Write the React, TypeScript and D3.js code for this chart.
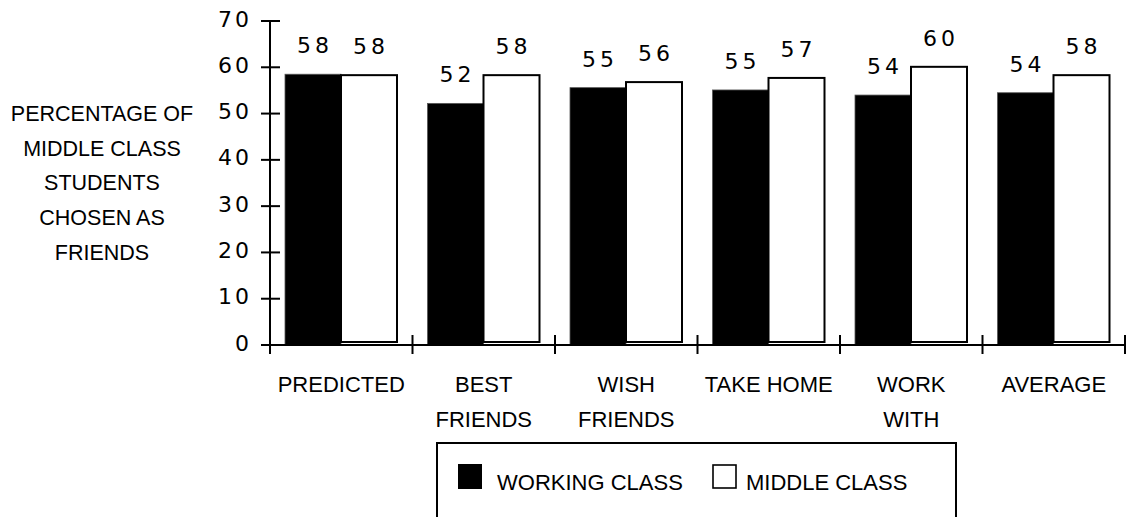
import React from "react";
import * as d3 from "d3";

const categories: string[][] = [
  ["PREDICTED"],
  ["BEST", "FRIENDS"],
  ["WISH", "FRIENDS"],
  ["TAKE HOME"],
  ["WORK", "WITH"],
  ["AVERAGE"],
];
const seriesNames = ["WORKING CLASS", "MIDDLE CLASS"];
const workingClass = [58.5, 52.2, 55.6, 55.1, 54.0, 54.5];
const middleClass = [58.3, 58.3, 56.8, 57.7, 60.1, 58.3];
const yTicks = [0, 10, 20, 30, 40, 50, 60, 70];
const yTitle = ["PERCENTAGE OF", "MIDDLE CLASS", "STUDENTS", "CHOSEN AS", "FRIENDS"];

const FONT = "'Liberation Sans', Arial, sans-serif";
const NUM_FONT = "'DejaVu Sans', Verdana, sans-serif";

export default function App() {
  const W = 1126;
  const H = 517;
  const x0 = d3
    .scaleBand<number>()
    .domain(categories.map((_, i) => i))
    .range([270, 1125])
    .padding(0);
  const step = x0.step();
  const x1 = d3
    .scaleBand<number>()
    .domain([0, 1])
    .range([15, step - 15.5])
    .padding(0);
  const y = d3.scaleLinear().domain([0, 70]).range([345, 21]);
  const series = [workingClass, middleClass];
  const boundaries = d3.range(categories.length + 1).map((i) => 270 + i * step);

  return (
    <svg
      width={W}
      height={H}
      style={{ position: "absolute", left: 0, top: 0, background: "#fff" }}
      fontFamily={FONT}
    >
      <rect x={0} y={0} width={W} height={H} fill="#fff" />
      {/* y title */}
      {yTitle.map((t, i) => (
        <text key={t} x={102} y={121 + i * 34.7} fontSize={21.5} textAnchor="middle" fill="#000">
          {t}
        </text>
      ))}
      {/* bars */}
      {categories.map((_, ci) => {
        const cx = x0(ci)!;
        return (
          <g key={ci}>
            {series.map((s, si) => {
              const v = s[ci];
              const bx = cx + x1(si)!;
              const bw = x1.bandwidth();
              if (si === 0) {
                return (
                  <rect
                    key={si}
                    x={bx}
                    y={y(v)}
                    width={bw}
                    height={y(0) - y(v)}
                    fill="#000"
                    stroke="#555"
                    strokeWidth={0.8}
                  />
                );
              }
              return (
                <rect
                  key={si}
                  x={bx}
                  y={y(v)}
                  width={bw}
                  height={y(0) - 3 - y(v)}
                  fill="#fff"
                  stroke="#000"
                  strokeWidth={2}
                />
              );
            })}
            {series.map((s, si) => {
              const v = s[ci];
              const bx = cx + x1(si)! + x1.bandwidth() / 2;
              return (
                <text
                  key={"l" + si}
                  x={bx + 2}
                  y={y(v) - 21}
                  fontSize={22}
                  fontFamily={NUM_FONT}
                  letterSpacing={4}
                  textAnchor="middle"
                  fill="#000"
                >
                  {Math.floor(v)}
                </text>
              );
            })}
          </g>
        );
      })}
      {/* y axis */}
      <line x1={270} x2={270} y1={y(70)} y2={y(0)} stroke="#000" strokeWidth={2} />
      {yTicks.map((t) => (
        <g key={t}>
          <line x1={261} x2={280} y1={y(t)} y2={y(t)} stroke="#000" strokeWidth={2} />
          <text
            x={249 + 3}
            y={y(t) + 5.5}
            fontSize={22}
            fontFamily={NUM_FONT}
            letterSpacing={3}
            textAnchor="end"
            fill="#000"
          >
            {t}
          </text>
        </g>
      ))}
      {/* x axis */}
      <line x1={270} x2={1125} y1={y(0)} y2={y(0)} stroke="#000" strokeWidth={2} />
      {boundaries.map((b, i) => (
        <line key={i} x1={b} x2={b} y1={y(0) - 10} y2={y(0) + 9} stroke="#000" strokeWidth={2} />
      ))}
      {categories.map((lines, ci) => (
        <text key={ci} fontSize={22} textAnchor="middle" fill="#000">
          {lines.map((l, li) => (
            <tspan key={li} x={x0(ci)! + step / 2} y={392 + li * 35}>
              {l}
            </tspan>
          ))}
        </text>
      ))}
      {/* legend */}
      <rect x={437} y={443} width={519} height={120} fill="none" stroke="#000" strokeWidth={2} />
      <rect x={458} y={464} width={24} height={25} fill="#000" />
      <text x={497} y={490} fontSize={22} fill="#000">
        {seriesNames[0]}
      </text>
      <rect x={713} y={465} width={23} height={23} fill="#fff" stroke="#000" strokeWidth={1.6} />
      <text x={746} y={490} fontSize={22} fill="#000">
        {seriesNames[1]}
      </text>
    </svg>
  );
}
